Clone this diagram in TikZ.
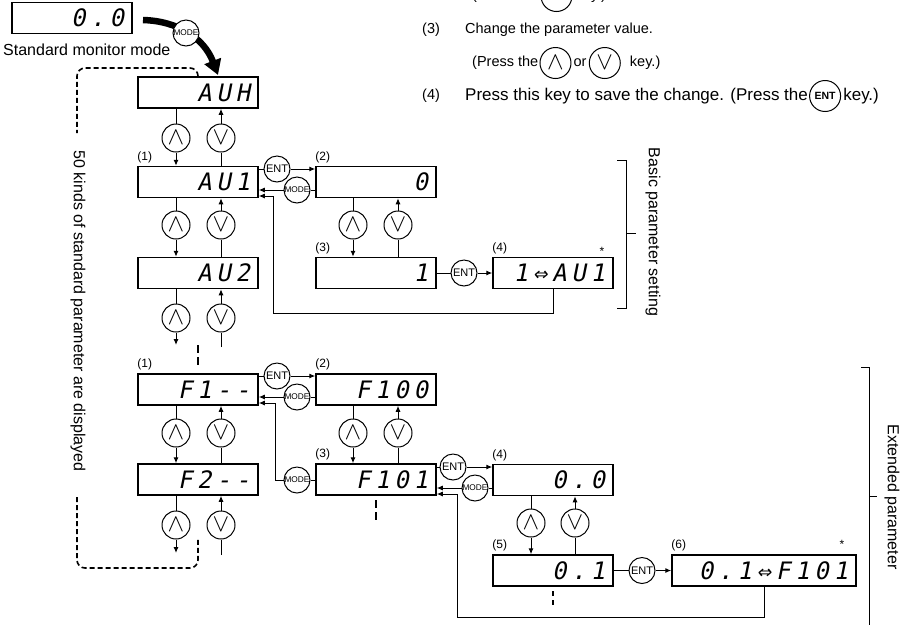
\documentclass[tikz,border=0pt]{standalone}
\usepackage{fontspec}
\setmainfont{Liberation Sans}
\newfontfamily\segfont[LetterSpace=20,FakeSlant=0.2]{DejaVu Sans Mono}
\usetikzlibrary{arrows.meta,calc,positioning}

\begin{document}
\begin{tikzpicture}[
  x=1pt, y=-1pt,
  disp/.style={
    draw,
    line width=1.5pt,
    minimum height=31pt,
    text width=104pt,
    inner xsep=8pt,
    inner ysep=2pt,
    align=right,
    font=\segfont\fontsize{24}{24}\selectfont
  },
  key/.style={
    draw,
    circle,
    fill=white,
    line width=1pt,
    minimum size=28pt,
    inner sep=0pt
  },
  updn/.style={key, font=\fontsize{27}{27}\selectfont},
  ent/.style={key, minimum size=26pt, font=\fontsize{11}{11}\selectfont},
  mode/.style={key, minimum size=26pt, font=\fontsize{8.3}{8.3}\selectfont},
  bigkey/.style={draw, circle, line width=1pt, minimum size=31pt, inner sep=0pt},
  arrow/.style={
    -{Latex[length=6pt,width=5pt]},
    line width=1pt
  },
  link/.style={line width=1pt},
  tag/.style={font=\fontsize{12}{12}\selectfont, anchor=south west, inner sep=0pt},
  side/.style={font=\fontsize{16}{16}\selectfont, rotate=-90, inner sep=0pt},
  note/.style={font=\fontsize{14.5}{14.5}\selectfont, inner sep=0pt},
  loop/.style={dash pattern=on 5pt off 3pt, line width=1.6pt, rounded corners=8pt},
  skip/.style={dash pattern=on 8pt off 4pt, line width=1.6pt}
]
\useasboundingbox (0,0) rectangle (909,625);
\clip (0,0) rectangle (909,625);

% Top notes
\node[note, anchor=west] (s0) at (472,-4) {(Press the};
\node[bigkey, right=2pt of s0] (k0) {};
\node[note, right=3pt of k0] (s0b) {key.)};
\node[note, anchor=west] (n3) at (422,30) {(3)};
\node[note, anchor=west] (s3) at (465,30) {Change the parameter value.};
\node[note, anchor=west] (s3a) at (472,63) {(Press the};
\node[bigkey, right=1pt of s3a, font=\fontsize{28}{28}\selectfont] (kup) {$\wedge$};
\node[note, right=2pt of kup] (s3b) {or};
\node[bigkey, right=2pt of s3b, font=\fontsize{28}{28}\selectfont] (kdn) {$\vee$};
\node[note, right=9pt of kdn] (s3c) {key.)};
\node[note, anchor=west] (n4) at (422,96) {(4)};
\node[note, anchor=west, font=\fontsize{17}{17}\selectfont] (s4) at (465,96)
  {Press this key to save the change. (Press the};
\node[bigkey, right=1pt of s4, font=\bfseries\fontsize{10.5}{10.5}\selectfont] (kent) {ENT};
\node[note, right=2pt of kent, font=\fontsize{17}{17}\selectfont] (s4b) {key.)};

% Monitor and mode key
\node[disp] (mon) at (72,18) {0.0};
\node[note, anchor=west, font=\fontsize{16}{16}\selectfont] (monlab) at (3,50) {Standard monitor mode};
\coordinate (mstart) at (143,20);
\coordinate (mend) at (218,75);
\draw[line width=6.5pt, -{Triangle[length=15pt,width=17pt]}]
  (mstart) .. controls (178,21) and (204,38) .. (mend);
\node[mode] (mode0) at (186,33) {MODE};

% Basic parameters
\node[disp] (auh) at (198,92.5) {AUH};
\node[disp] (au1) at (198,182) {AU1};
\node[disp] (au2) at (198,273) {AU2};
\node[disp] (b2) at (376,182) {0};
\node[disp] (b3) at (376,273) {1};
\node[disp] (b4) at (553,273) {1⇔AU1};
\node[tag] (t1) at ([yshift=3pt]au1.north west) {(1)};
\node[tag] (t2) at ([yshift=3pt]b2.north west) {(2)};
\node[tag] (t3) at ([yshift=3pt]b3.north west) {(3)};
\node[tag] (t4) at ([yshift=3pt]b4.north west) {(4)};
\node[font=\fontsize{12}{12}\selectfont] (star1) at (602,251) {*};

\node[updn] (auhU) at (176,138) {$\wedge$};
\node[updn] (auhD) at (221,138) {$\vee$};
\node[updn] (au1U) at (176,225) {$\wedge$};
\node[updn] (au1D) at (221,225) {$\vee$};
\node[updn] (au2U) at (176,318) {$\wedge$};
\node[updn] (au2D) at (221,318) {$\vee$};
\node[updn] (b2U) at (353,225) {$\wedge$};
\node[updn] (b2D) at (398,225) {$\vee$};

\draw[arrow] (auh.south -| auhU) -- (auhU) -- (au1.north -| auhU);
\draw[arrow] (au1.north -| auhD) -- (auhD) -- (auh.south -| auhD);
\draw[arrow] (au1.south -| au1U) -- (au1U) -- (au2.north -| au1U);
\draw[arrow] (au2.north -| au1D) -- (au1D) -- (au1.south -| au1D);
\coordinate (au2a) at (176,345);
\coordinate (au2b) at (221,347);
\draw[arrow] (au2.south -| au2U) -- (au2U) -- (au2a);
\draw[arrow] (au2b) -- (au2D) -- (au2.south -| au2D);
\draw[arrow] (b2.south -| b2U) -- (b2U) -- (b3.north -| b2U);
\draw[arrow] (b3.north -| b2D) -- (b2D) -- (b2.south -| b2D);

\node[ent] (ent1) at (277,169) {ENT};
\node[mode] (mode1) at (297,190) {MODE};
\draw[arrow] (au1.east |- ent1) -- (ent1) -- (b2.west |- ent1);
\draw[arrow] (b2.west |- mode1) -- (mode1) -- (au1.east |- mode1);
\node[ent] (ent2) at (464,273) {ENT};
\draw[arrow] (b3) -- (ent2) -- (b4);
\coordinate (r1) at (273,313);
\coordinate (r1a) at (273,196);
\draw[arrow] (b4.south) |- (r1) -- (r1a) -- (au1.east |- r1a);

\draw[skip] (198,345) -- (198,367);

% Extended parameters
\node[disp] (f1) at (198,389.5) {F1-{}-};
\node[disp] (f2) at (198,479.5) {F2-{}-};
\node[disp] (e2) at (376,389.5) {F100};
\node[disp] (e3) at (376,479.5) {F101};
\node[disp] (e4) at (553,480) {0.0};
\node[disp] (e5) at (553,570.5) {0.1};
\node[disp, text width=168pt] (e6) at (764,570.5) {0.1⇔F101};
\node[tag] (t5) at ([yshift=3pt]f1.north west) {(1)};
\node[tag] (t6) at ([yshift=3pt]e2.north west) {(2)};
\node[tag] (t7) at ([yshift=3pt]e3.north west) {(3)};
\node[tag] (t8) at ([yshift=3pt]e4.north west) {(4)};
\node[tag] (t9) at ([yshift=3pt]e5.north west) {(5)};
\node[tag] (t10) at ([yshift=3pt]e6.north west) {(6)};
\node[font=\fontsize{12}{12}\selectfont] (star2) at (842,544) {*};

\node[updn] (f1U) at (176,433) {$\wedge$};
\node[updn] (f1D) at (221,433) {$\vee$};
\node[updn] (f2U) at (176,525) {$\wedge$};
\node[updn] (f2D) at (221,525) {$\vee$};
\node[updn] (e2U) at (353,433) {$\wedge$};
\node[updn] (e2D) at (398,433) {$\vee$};
\node[updn] (e4U) at (531,523) {$\wedge$};
\node[updn] (e4D) at (575,523) {$\vee$};

\draw[arrow] (f1.south -| f1U) -- (f1U) -- (f2.north -| f1U);
\draw[arrow] (f2.north -| f1D) -- (f1D) -- (f1.south -| f1D);
\coordinate (f2a) at (176,553);
\coordinate (f2b) at (221,555);
\draw[arrow] (f2.south -| f2U) -- (f2U) -- (f2a);
\draw[arrow] (f2b) -- (f2D) -- (f2.south -| f2D);
\draw[arrow] (e2.south -| e2U) -- (e2U) -- (e3.north -| e2U);
\draw[arrow] (e3.north -| e2D) -- (e2D) -- (e2.south -| e2D);
\draw[arrow] (e4.south -| e4U) -- (e4U) -- (e5.north -| e4U);
\draw[arrow] (e5.north -| e4D) -- (e4D) -- (e4.south -| e4D);

\node[ent] (ent3) at (277,376) {ENT};
\node[mode] (mode3) at (297,397) {MODE};
\draw[arrow] (f1.east |- ent3) -- (ent3) -- (e2.west |- ent3);
\draw[arrow] (e2.west |- mode3) -- (mode3) -- (f1.east |- mode3);
\node[mode] (mode4) at (297,480) {MODE};
\coordinate (r2) at (275,403);
\draw[arrow] (e3.west |- mode4) -- (mode4) -| (r2) -- (f1.east |- r2);

\node[ent] (ent4) at (453,467) {ENT};
\node[mode] (mode5) at (475,488) {MODE};
\draw[arrow] (e3.east |- ent4) -- (ent4) -- (e4.west |- ent4);
\draw[arrow] (e4.west |- mode5) -- (mode5) -- (e3.east |- mode5);
\node[ent] (ent5) at (642,570.5) {ENT};
\draw[arrow] (e5) -- (ent5) -- (e6);
\coordinate (r3) at (457,617);
\coordinate (r3a) at (457,494);
\draw[arrow] (e6.south) |- (r3) -- (r3a) -- (e3.east |- r3a);

\draw[skip] (376,500) -- (376,523);
\draw[skip, dash pattern=on 5pt off 4pt] (553,591) -- (553,605);

% Dashed loop over the standard list
\coordinate (dtop) at (77,133);
\coordinate (dbot) at (77,497);
\coordinate (dend) at (198,537);
\draw[loop] (auh.north) |- (77,68) -- (dtop);
\draw[loop] (dbot) |- (150,568) -| (dend);
\node[side] (kinds) at (78,311) {50 kinds of standard parameter are displayed};

% Brackets
\draw[link] (617,160) -- (626,160) -- (626,308) -- (617,308);
\draw[link] (626,233) -- (636,233);
\node[side] (basic) at (653,232) {Basic parameter setting};
\draw[link] (861,367) -- (869,367) -- (869,625);
\draw[link] (869,496) -- (877,496);
\node[side] (ext) at (892,497) {Extended parameter};

\end{tikzpicture}
\end{document}
